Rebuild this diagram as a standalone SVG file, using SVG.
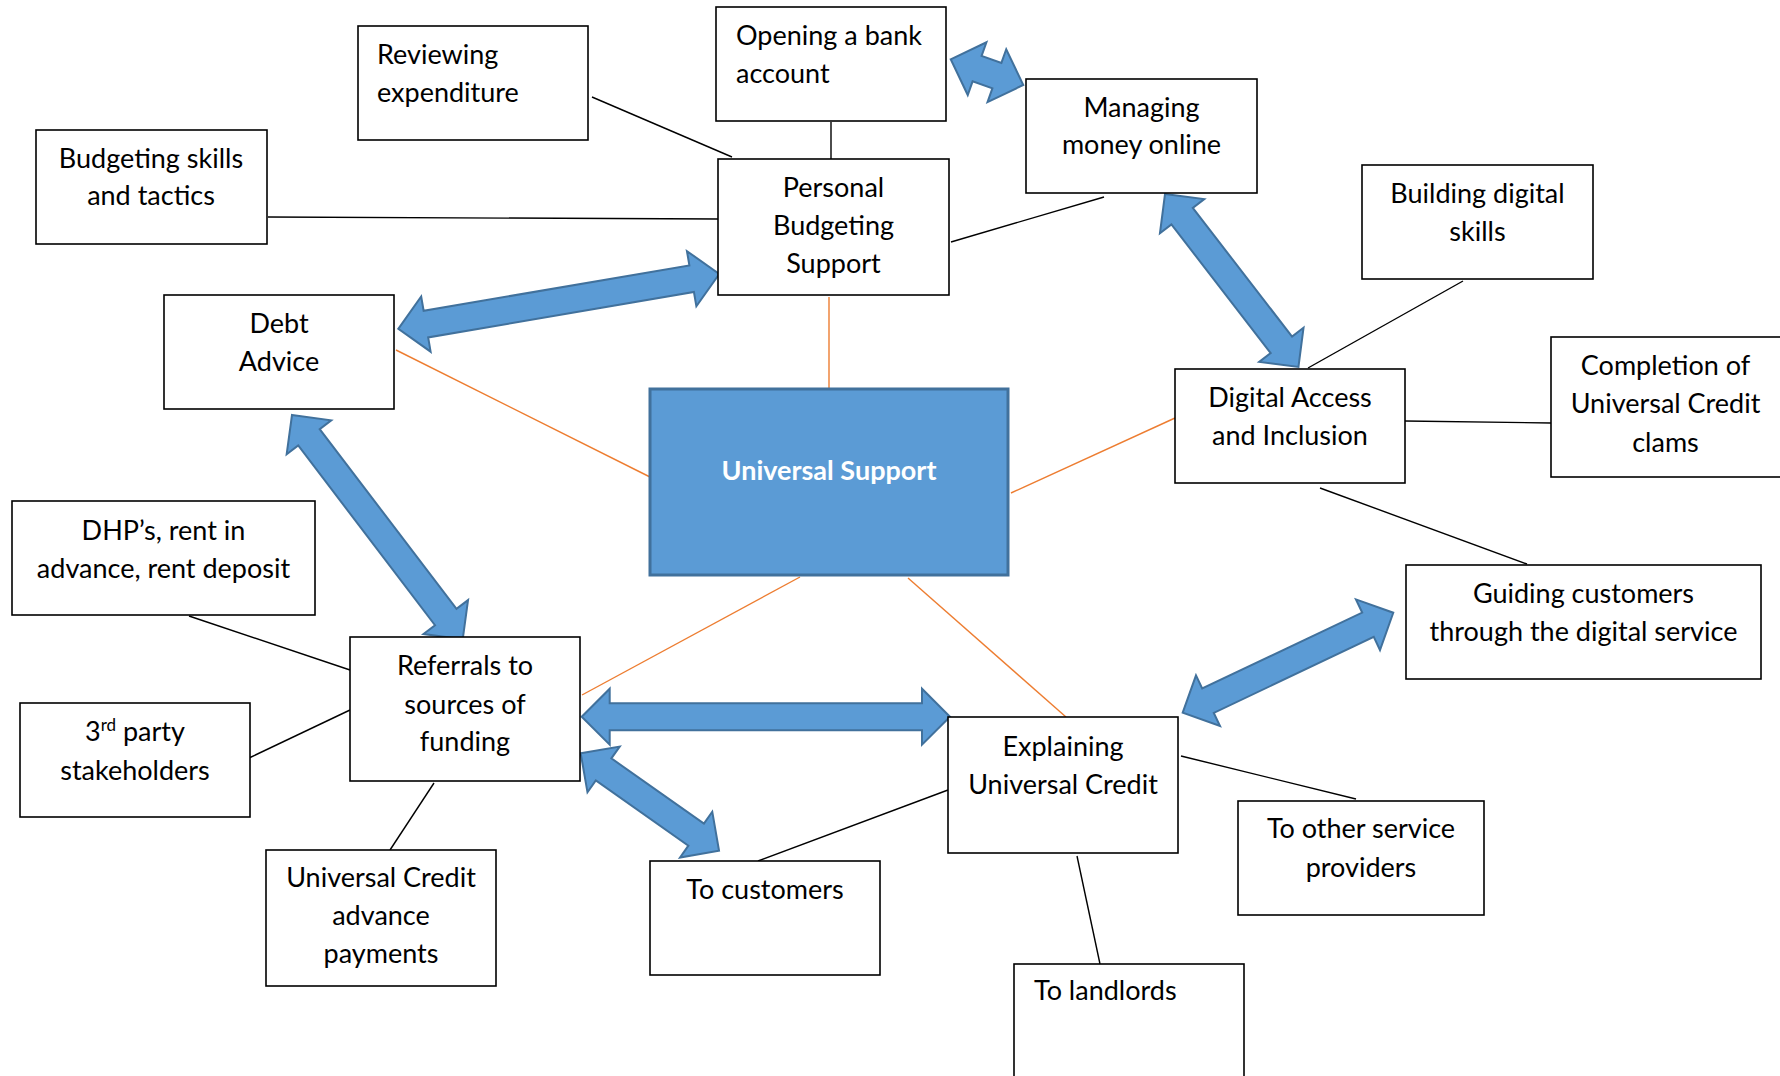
<svg xmlns="http://www.w3.org/2000/svg" width="1780" height="1076" viewBox="0 0 1780 1076">
<style>
.box{fill:#fff;stroke:#000;stroke-width:1.6}
.hub{fill:#5B9BD5;stroke:#41719C;stroke-width:3}
.t{font-family:Lato,"Open Sans","Liberation Sans",sans-serif;font-size:27px;fill:#000}
.c{text-anchor:middle}
.hubt{font-family:Lato,"Open Sans","Liberation Sans",sans-serif;font-size:27px;font-weight:bold;fill:#fff;text-anchor:middle}
.bl{stroke:#000;stroke-width:1.4;fill:none}
.or{stroke:#ED7D31;stroke-width:1.4;fill:none}
.ar{fill:#5B9BD5;stroke:#41719C;stroke-width:2;stroke-linejoin:miter}
</style>
<rect width="1780" height="1076" fill="#fff"/>
<g id="connectors">
<line class="bl" x1="592" y1="97" x2="732" y2="157"/>
<line class="bl" x1="831" y1="122" x2="831" y2="159"/>
<line class="bl" x1="268" y1="217" x2="718" y2="219"/>
<line class="bl" x1="951" y1="242" x2="1104" y2="197"/>
<line class="bl" x1="1463" y1="281" x2="1308" y2="368"/>
<line class="bl" x1="1405" y1="421" x2="1551" y2="423"/>
<line class="bl" x1="1320" y1="488" x2="1527" y2="564"/>
<line class="bl" x1="189" y1="616" x2="350" y2="670"/>
<line class="bl" x1="249" y1="758" x2="350" y2="710"/>
<line class="bl" x1="434" y1="783" x2="390" y2="850"/>
<line class="bl" x1="948" y1="790" x2="758" y2="861"/>
<line class="bl" x1="1181" y1="756" x2="1356" y2="799"/>
<line class="bl" x1="1077" y1="856" x2="1100" y2="964"/>
<line class="or" x1="829" y1="297" x2="829" y2="389"/>
<line class="or" x1="396" y1="350" x2="650" y2="477"/>
<line class="or" x1="1011" y1="493" x2="1175" y2="418"/>
<line class="or" x1="800" y1="577" x2="582" y2="695"/>
<line class="or" x1="908" y1="578" x2="1066" y2="717"/>
<polygon class="ar" transform="translate(950.7,59.3) rotate(19.5)" points="0,0 28,-28 28,-13.5 49,-13.5 49,-28 77,0 49,28 49,13.5 28,13.5 28,28"/>
<polygon class="ar" transform="translate(398.3,328.8) rotate(-9.69)" points="0,0 28,-28 28,-13.5 297.6,-13.5 297.6,-28 325.6,0 297.6,28 297.6,13.5 28,13.5 28,28"/>
<polygon class="ar" transform="translate(1165,194) rotate(52.35)" points="0,0 28,-28 28,-13.5 190.5,-13.5 190.5,-28 218.5,0 190.5,28 190.5,13.5 28,13.5 28,28"/>
<polygon class="ar" transform="translate(292,415) rotate(52.73)" points="0,0 28,-28 28,-13.5 253.9,-13.5 253.9,-28 281.9,0 253.9,28 253.9,13.5 28,13.5 28,28"/>
<polygon class="ar" transform="translate(581.7,716.7)" points="0,0 28,-28 28,-13.5 340.3,-13.5 340.3,-28 368.3,0 340.3,28 340.3,13.5 28,13.5 28,28"/>
<polygon class="ar" transform="translate(580.7,753.3) rotate(35.15)" points="0,0 28,-28 28,-13.5 141.2,-13.5 141.2,-28 169.2,0 141.2,28 141.2,13.5 28,13.5 28,28"/>
<polygon class="ar" transform="translate(1182.7,712.7) rotate(-25.4)" points="0,0 28,-28 28,-13.5 205.1,-13.5 205.1,-28 233.1,0 205.1,28 205.1,13.5 28,13.5 28,28"/>
</g>
<g id="reviewing"><rect class="box" x="358" y="26" width="230" height="114"/><text class="t" x="377" y="64">Reviewing</text><text class="t" x="377" y="102">expenditure</text></g>
<g id="budgeting"><rect class="box" x="36" y="130" width="231" height="114"/><text class="t c" x="151" y="168">Budgeting skills</text><text class="t c" x="151" y="205">and tactics</text></g>
<g id="debt"><rect class="box" x="164" y="295" width="230" height="114"/><text class="t c" x="279" y="333">Debt</text><text class="t c" x="279" y="371">Advice</text></g>
<g id="opening"><rect class="box" x="716" y="7" width="230" height="114"/><text class="t" x="736" y="45">Opening a bank</text><text class="t" x="736" y="83">account</text></g>
<g id="managing"><rect class="box" x="1026" y="79" width="231" height="114"/><text class="t c" x="1141.5" y="117">Managing</text><text class="t c" x="1141.5" y="154">money online</text></g>
<g id="pbs"><rect class="box" x="718" y="159" width="231" height="136"/><text class="t c" x="833.5" y="197">Personal</text><text class="t c" x="833.5" y="235">Budgeting</text><text class="t c" x="833.5" y="273">Support</text></g>
<g id="building"><rect class="box" x="1362" y="165" width="231" height="114"/><text class="t c" x="1477.5" y="203">Building digital</text><text class="t c" x="1477.5" y="241">skills</text></g>
<g id="completion"><rect class="box" x="1551" y="337" width="231" height="140"/><text class="t c" x="1665.5" y="375">Completion of</text><text class="t c" x="1665.5" y="413">Universal Credit</text><text class="t c" x="1665.5" y="452">clams</text></g>
<g id="digital"><rect class="box" x="1175" y="369" width="230" height="114"/><text class="t c" x="1290" y="407">Digital Access</text><text class="t c" x="1290" y="445">and Inclusion</text></g>
<g id="guiding"><rect class="box" x="1406" y="565" width="355" height="114"/><text class="t c" x="1583.5" y="603">Guiding customers</text><text class="t c" x="1583.5" y="641">through the digital service</text></g>
<g id="universal"><rect class="hub" x="650" y="389" width="358" height="186"/><text class="hubt" x="829" y="480">Universal Support</text></g>
<g id="dhp"><rect class="box" x="12" y="501" width="303" height="114"/><text class="t c" x="163.5" y="540">DHP’s, rent in</text><text class="t c" x="163.5" y="578">advance, rent deposit</text></g>
<g id="referrals"><rect class="box" x="350" y="637" width="230" height="144"/><text class="t c" x="465" y="675">Referrals to</text><text class="t c" x="465" y="714">sources of</text><text class="t c" x="465" y="751">funding</text></g>
<g id="thirdparty"><rect class="box" x="20" y="703" width="230" height="114"/><text class="t c" x="135" y="741">3<tspan font-size="17" dy="-10">rd</tspan><tspan dy="10"> party</tspan></text><text class="t c" x="135" y="780">stakeholders</text></g>
<g id="ucadvance"><rect class="box" x="266" y="850" width="230" height="136"/><text class="t c" x="381" y="887">Universal Credit</text><text class="t c" x="381" y="925">advance</text><text class="t c" x="381" y="963">payments</text></g>
<g id="tocustomers"><rect class="box" x="650" y="861" width="230" height="114"/><text class="t c" x="765" y="899">To customers</text></g>
<g id="explaining"><rect class="box" x="948" y="717" width="230" height="136"/><text class="t c" x="1063" y="756">Explaining</text><text class="t c" x="1063" y="794">Universal Credit</text></g>
<g id="toother"><rect class="box" x="1238" y="801" width="246" height="114"/><text class="t c" x="1361" y="838">To other service</text><text class="t c" x="1361" y="877">providers</text></g>
<g id="landlords"><rect class="box" x="1014" y="964" width="230" height="130"/><text class="t" x="1034" y="1000">To landlords</text></g>
</svg>
